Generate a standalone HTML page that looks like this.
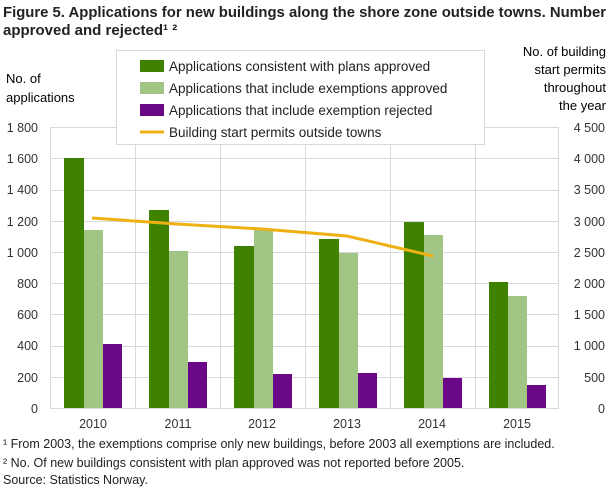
<!DOCTYPE html>
<html><head><meta charset="utf-8"><style>
body{margin:0;width:610px;height:488px;background:#fff;font-family:"Liberation Sans",sans-serif;color:#222;overflow:hidden}
</style></head><body>
<svg width="610" height="488" xmlns="http://www.w3.org/2000/svg" font-family="Liberation Sans, sans-serif">
<text x="3" y="17" font-size="15" font-weight="600" fill="#222" textLength="603" lengthAdjust="spacingAndGlyphs">Figure 5. Applications for  new buildings along the shore zone outside towns. Number</text>
<text x="3" y="35" font-size="15" font-weight="600" fill="#222">approved and rejected¹ ²</text>
<text x="6" y="83" font-size="13">No. of</text>
<text x="6" y="102" font-size="13">applications</text>
<g font-size="13" text-anchor="end">
<text x="606" y="56">No. of building</text>
<text x="606" y="74">start permits</text>
<text x="606" y="92">throughout</text>
<text x="606" y="110">the year</text>
</g>
<g stroke="#d9d9d9" stroke-width="1">
<line x1="50" y1="127.5" x2="559" y2="127.5"/>
<line x1="50" y1="158.5" x2="559" y2="158.5"/>
<line x1="50" y1="190.5" x2="559" y2="190.5"/>
<line x1="50" y1="221.5" x2="559" y2="221.5"/>
<line x1="50" y1="252.5" x2="559" y2="252.5"/>
<line x1="50" y1="283.5" x2="559" y2="283.5"/>
<line x1="50" y1="314.5" x2="559" y2="314.5"/>
<line x1="50" y1="346.5" x2="559" y2="346.5"/>
<line x1="50" y1="377.5" x2="559" y2="377.5"/>
<line x1="50.5" y1="127" x2="50.5" y2="408"/>
<line x1="135.5" y1="127" x2="135.5" y2="408"/>
<line x1="220.5" y1="127" x2="220.5" y2="408"/>
<line x1="305.5" y1="127" x2="305.5" y2="408"/>
<line x1="390.5" y1="127" x2="390.5" y2="408"/>
<line x1="475.5" y1="127" x2="475.5" y2="408"/>
<line x1="558.5" y1="127" x2="558.5" y2="408"/>
<line x1="50" y1="408.5" x2="559" y2="408.5"/>
</g>
<g font-size="12.5" text-anchor="end" fill="#333">
<text x="38" y="132">1 800</text><text x="38" y="163">1 600</text><text x="38" y="194">1 400</text><text x="38" y="226">1 200</text><text x="38" y="257">1 000</text><text x="38" y="288">800</text><text x="38" y="319">600</text><text x="38" y="350">400</text><text x="38" y="382">200</text><text x="38" y="413">0</text>
</g>
<g font-size="12.5" text-anchor="end" fill="#333">
<text x="605" y="132">4 500</text><text x="605" y="163">4 000</text><text x="605" y="194">3 500</text><text x="605" y="226">3 000</text><text x="605" y="257">2 500</text><text x="605" y="288">2 000</text><text x="605" y="319">1 500</text><text x="605" y="350">1 000</text><text x="605" y="382">500</text><text x="605" y="413">0</text>
</g>
<g font-size="12.5" text-anchor="middle" fill="#333">
<text x="93" y="428">2010</text><text x="178" y="428">2011</text><text x="262" y="428">2012</text><text x="347" y="428">2013</text><text x="432" y="428">2014</text><text x="517" y="428">2015</text>
</g>
<g>
<rect x="64" y="158" width="20" height="250" fill="#3f8200"/><rect x="84" y="230" width="19" height="178" fill="#a0c584"/><rect x="103" y="344" width="19" height="64" fill="#6a0888"/>
<rect x="149" y="210" width="20" height="198" fill="#3f8200"/><rect x="169" y="251" width="19" height="157" fill="#a0c584"/><rect x="188" y="362" width="19" height="46" fill="#6a0888"/>
<rect x="234" y="246" width="20" height="162" fill="#3f8200"/><rect x="254" y="229" width="19" height="179" fill="#a0c584"/><rect x="273" y="374" width="19" height="34" fill="#6a0888"/>
<rect x="319" y="239" width="20" height="169" fill="#3f8200"/><rect x="339" y="253" width="19" height="155" fill="#a0c584"/><rect x="358" y="373" width="19" height="35" fill="#6a0888"/>
<rect x="404" y="222" width="20" height="186" fill="#3f8200"/><rect x="424" y="235" width="19" height="173" fill="#a0c584"/><rect x="443" y="378" width="19" height="30" fill="#6a0888"/>
<rect x="489" y="282" width="19" height="126" fill="#3f8200"/><rect x="508" y="296" width="19" height="112" fill="#a0c584"/><rect x="527" y="385" width="19" height="23" fill="#6a0888"/>
</g>
<polyline points="92,218 177,224 262,229 347,236 433,256" fill="none" stroke="#eeb012" stroke-width="3"/>
<rect x="116.5" y="50.5" width="368" height="94" fill="#fff" stroke="#d9d9d9"/>
<rect x="140" y="60" width="24" height="12" fill="#3f8200"/>
<rect x="140" y="82" width="24" height="12" fill="#a0c584"/>
<rect x="140" y="104" width="24" height="12" fill="#6a0888"/>
<line x1="140" y1="132" x2="164" y2="132" stroke="#eeb012" stroke-width="3"/>
<g font-size="13.5" fill="#222">
<text x="169" y="71">Applications consistent with plans approved</text>
<text x="169" y="93">Applications that include exemptions approved</text>
<text x="169" y="115">Applications that include exemption rejected</text>
<text x="169" y="137">Building start permits outside towns</text>
</g>
<g font-size="12.5" fill="#222">
<text x="3" y="448">¹ From 2003, the exemptions comprise only new buildings, before 2003 all exemptions are included.</text>
<text x="3" y="467">² No. Of new buildings consistent with plan approved was not reported before 2005.</text>
<text x="3" y="484">Source: Statistics Norway.</text>
</g>
</svg>
</body></html>
